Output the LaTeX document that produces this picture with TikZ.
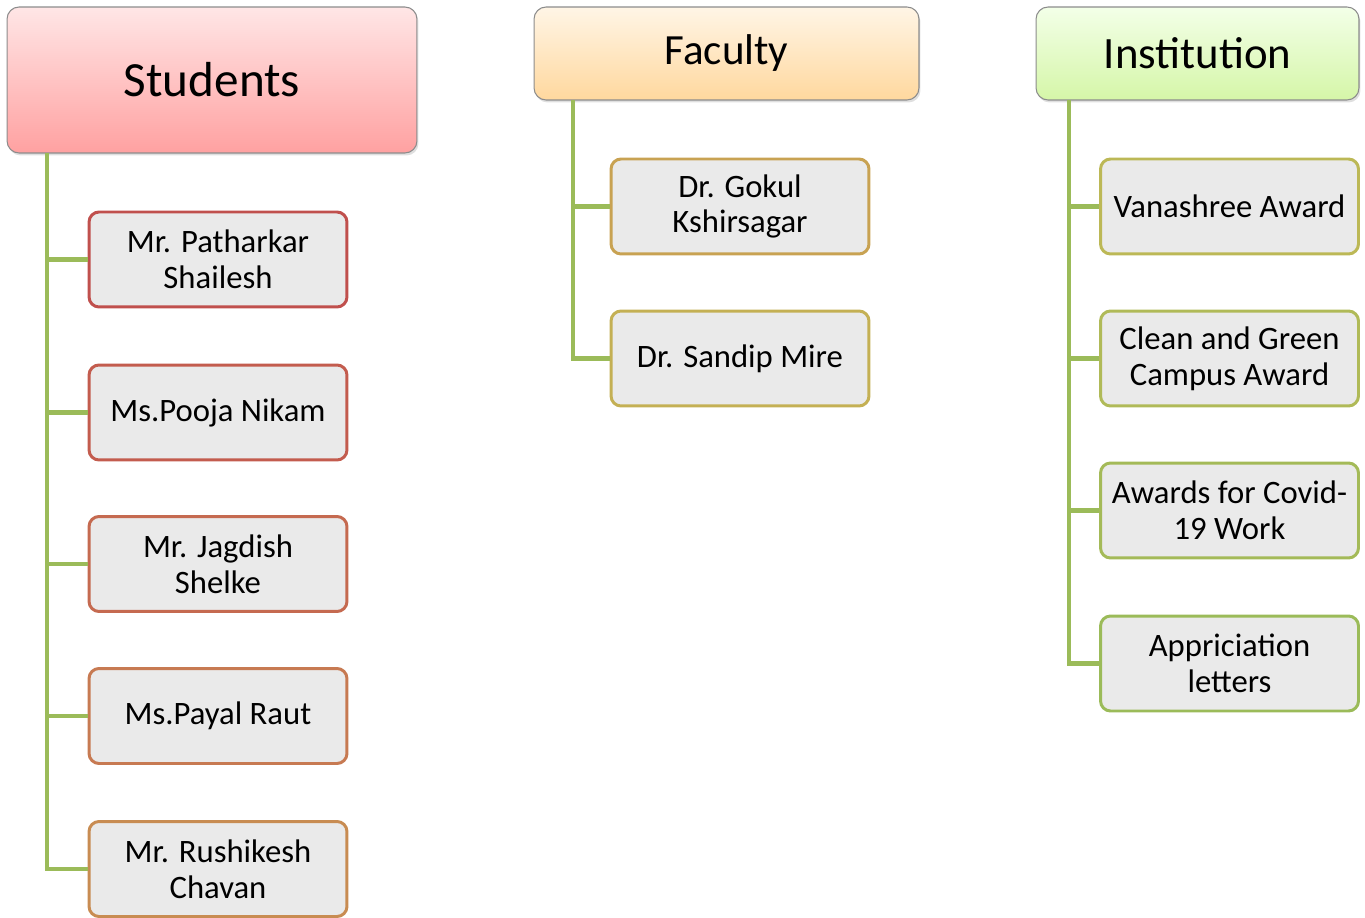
\documentclass[tikz,border=0pt]{standalone}
\usepackage{fontspec}
\setmainfont{Carlito}
\usepackage{tikz}
\usetikzlibrary{positioning,calc,shadows}

\definecolor{conngreen}{HTML}{9BBB59}
\definecolor{boxgray}{HTML}{EAEAEA}
\definecolor{headline}{HTML}{8C8C8C}
\definecolor{stutop}{HTML}{FFE6E6}
\definecolor{stubot}{HTML}{FFA1A1}
\definecolor{factop}{HTML}{FFF5E6}
\definecolor{facbot}{HTML}{FFD89E}
\definecolor{insttop}{HTML}{F3FFE8}
\definecolor{instbot}{HTML}{D5F6A8}
\definecolor{bs1}{HTML}{C0504D}
\definecolor{bs2}{HTML}{C35C4E}
\definecolor{bs3}{HTML}{C56A50}
\definecolor{bs4}{HTML}{C77A52}
\definecolor{bs5}{HTML}{C88C52}
\definecolor{bf1}{HTML}{C8A252}
\definecolor{bf2}{HTML}{C4B054}
\definecolor{bi1}{HTML}{BCB856}
\definecolor{bi2}{HTML}{B0BA58}
\definecolor{bi3}{HTML}{A4BA58}
\definecolor{bi4}{HTML}{9BBB59}

\tikzset{
  headbox/.style={draw=headline, line width=0.6pt, rounded corners=0.24cm,
    align=center, inner sep=0pt,
    drop shadow={shadow xshift=0.03cm, shadow yshift=-0.05cm, opacity=0.25}},
  childbox/.style={draw=#1, fill=boxgray, line width=1.7pt, rounded corners=0.2cm,
    minimum width=5.16cm, minimum height=1.9cm, align=center, inner sep=0pt,
    font=\fontsize{18.6}{20.4}\selectfont},
  conn/.style={draw=conngreen, line width=2.8pt}
}

\begin{document}
\begin{tikzpicture}[x=0.02cm, y=-0.02cm]
    \useasboundingbox (0,0) rectangle (1365,918);

    % Headers
    \node[headbox, top color=stutop, bottom color=stubot,
          minimum width=8.2cm, minimum height=2.92cm,
          font=\fontsize{28}{32}\selectfont] (stu) at (212,80) {Students};
    \node[headbox, top color=factop, bottom color=facbot,
          minimum width=7.7cm, minimum height=1.86cm,
          font=\fontsize{24.5}{28}\selectfont] (fac) at (726.5,53.5) {Faculty};
    \node[headbox, top color=insttop, bottom color=instbot,
          minimum width=6.46cm, minimum height=1.86cm,
          font=\fontsize{25.5}{28}\selectfont] (inst) at (1197.5,53.5) {Institution};

    % Students
    \node[childbox=bs1] (s1) at (218,259.5) {Mr. Patharkar\\Shailesh};
    \node[childbox=bs2] (s2) at (218,412.5) {Ms.Pooja Nikam};
    \node[childbox=bs3] (s3) at (218,564) {Mr. Jagdish\\Shelke};
    \node[childbox=bs4] (s4) at (218,716) {Ms.Payal Raut};
    \node[childbox=bs5] (s5) at (218,869) {Mr. Rushikesh\\Chavan};

    % Faculty
    \node[childbox=bf1] (f1) at (740,206.5) {Dr. Gokul\\Kshirsagar};
    \node[childbox=bf2] (f2) at (740,358.5) {Dr. Sandip Mire};

    % Institution
    \node[childbox=bi1] (i1) at (1229.5,206.5) {Vanashree Award};
    \node[childbox=bi2] (i2) at (1229.5,358.5) {Clean and Green\\Campus Award};
    \node[childbox=bi3] (i3) at (1229.5,510.5) {Awards for Covid-\\19 Work};
    \node[childbox=bi4] (i4) at (1229.5,663.5) {Appriciation\\letters};

    % Connectors
    \coordinate (stutrunk) at (47,153.5);
    \coordinate (factrunk) at (573,100.5);
    \coordinate (insttrunk) at (1069,100.5);

    \draw[conn] (stutrunk) |- (s5.west);
    \draw[conn] (stutrunk) |- (s1.west);
    \draw[conn] (stutrunk) |- (s2.west);
    \draw[conn] (stutrunk) |- (s3.west);
    \draw[conn] (stutrunk) |- (s4.west);

    \draw[conn] (factrunk) |- (f2.west);
    \draw[conn] (factrunk) |- (f1.west);

    \draw[conn] (insttrunk) |- (i4.west);
    \draw[conn] (insttrunk) |- (i1.west);
    \draw[conn] (insttrunk) |- (i2.west);
    \draw[conn] (insttrunk) |- (i3.west);

\end{tikzpicture}
\end{document}
